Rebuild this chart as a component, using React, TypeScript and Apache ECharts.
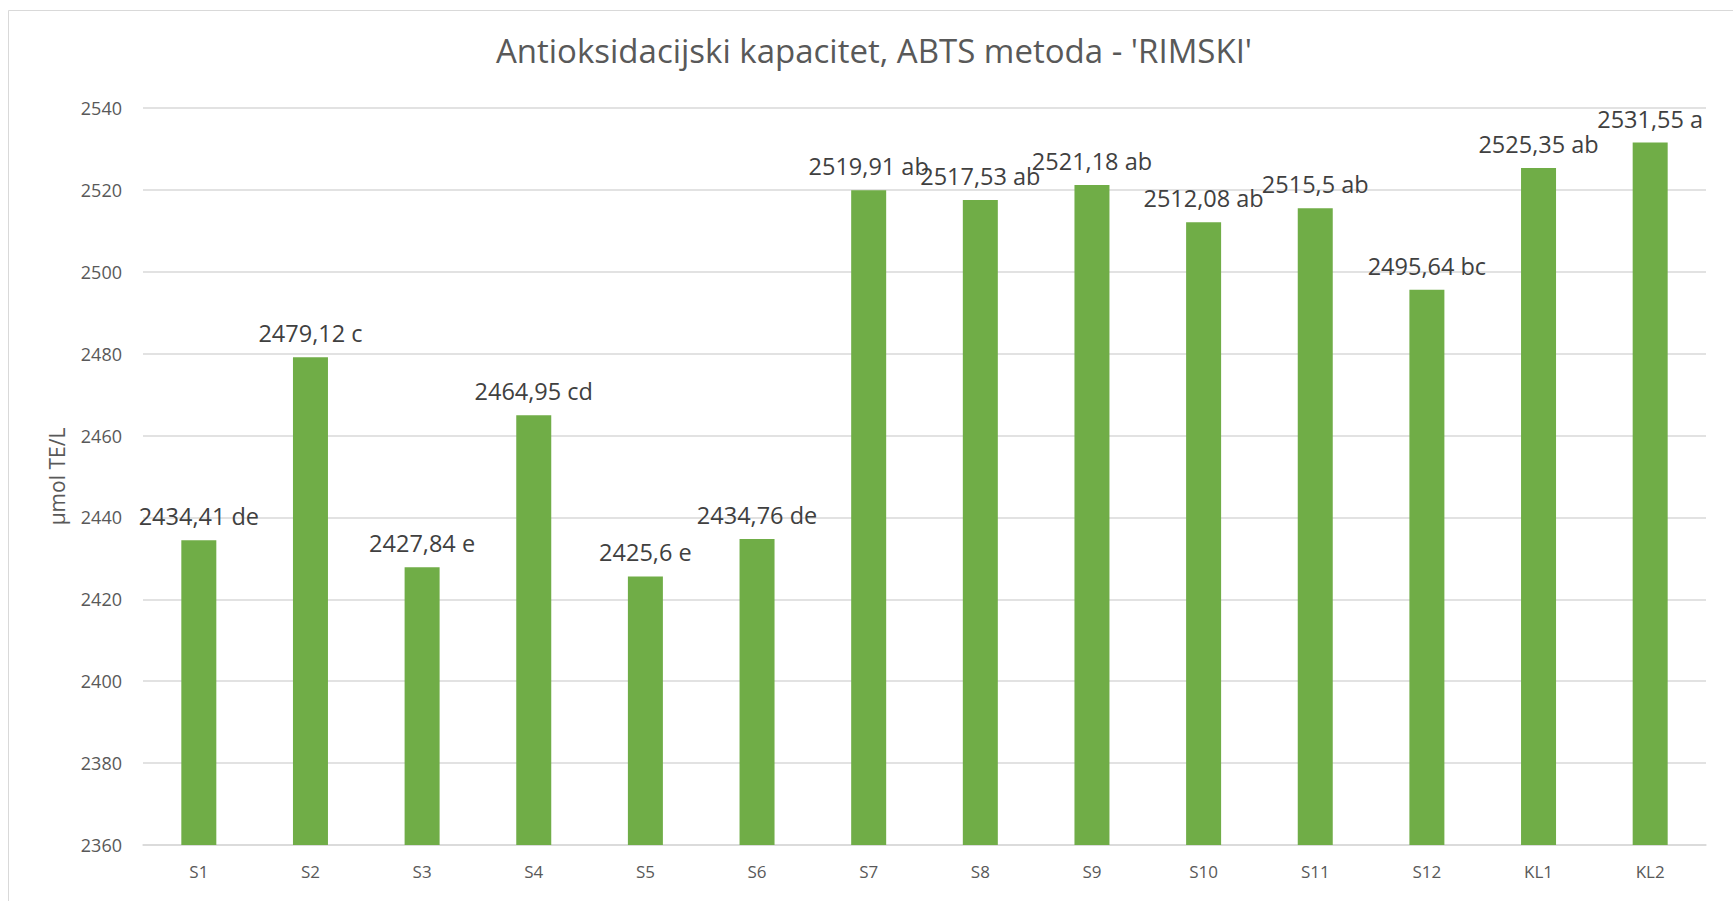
import React, { useEffect, useRef } from "react";
import * as echarts from "echarts";

const categories = ["S1", "S2", "S3", "S4", "S5", "S6", "S7", "S8", "S9", "S10", "S11", "S12", "KL1", "KL2"];
const values = [2434.41, 2479.12, 2427.84, 2464.95, 2425.6, 2434.76, 2519.91, 2517.53, 2521.18, 2512.08, 2515.5, 2495.64, 2525.35, 2531.55];
const letters = ["de", "c", "e", "cd", "e", "de", "ab", "ab", "ab", "ab", "ab", "bc", "ab", "a"];
const yMin = 2360;
const yMax = 2540;
const yStep = 20;

const FONT = "'Open Sans', sans-serif";

export default function App() {
  const ref = useRef<HTMLDivElement>(null);
  useEffect(() => {
    if (!ref.current) return;
    const chart = echarts.init(ref.current, null, { renderer: "svg" });
    chart.setOption({
      animation: false,
      backgroundColor: "#ffffff",
      textStyle: { fontFamily: FONT },
      title: {
        text: "Antioksidacijski kapacitet, ABTS metoda - 'RIMSKI'",
        left: 869,
        textAlign: "center",
        top: 29,
        textStyle: { fontFamily: FONT, fontSize: 33, fontWeight: "normal", color: "#595959" },
      },
      graphic: [
        {
          type: "rect",
          shape: { x: 8.5, y: 10.5, width: 1760, height: 920 },
          style: { fill: "none", stroke: "#D9D9D9", lineWidth: 1 },
          silent: true,
        },
      ],
      grid: { left: 143, right: 27, top: 108, bottom: 56, containLabel: false },
      xAxis: {
        type: "category",
        data: categories,
        axisLine: { show: true, lineStyle: { color: "#D9D9D9", width: 1.5 } },
        axisTick: { show: false },
        axisLabel: { fontFamily: FONT, fontSize: 17, color: "#595959", margin: 18 },
      },
      yAxis: {
        type: "value",
        min: yMin,
        max: yMax,
        interval: yStep,
        name: "µmol TE/L",
        nameLocation: "middle",
        nameGap: 76,
        nameRotate: 90,
        nameTextStyle: { fontFamily: FONT, fontSize: 21, color: "#595959" },
        axisLine: { show: false },
        axisTick: { show: false },
        splitLine: { lineStyle: { color: "#D9D9D9", width: 1.5 } },
        axisLabel: {
          fontFamily: FONT,
          fontSize: 18,
          color: "#595959",
          margin: 21,
          formatter: (v: number) => String(v),
        },
      },
      series: [
        {
          type: "bar",
          data: values,
          barWidth: 35,
          itemStyle: { color: "#70AD47" },
          label: {
            show: true,
            position: "top",
            distance: 12,
            fontFamily: FONT,
            fontSize: 23.5,
            color: "#404040",
            formatter: (p: any) => String(values[p.dataIndex]).replace(".", ",") + " " + letters[p.dataIndex],
          },
        },
      ],
    });
    return () => chart.dispose();
  }, []);
  return (
    <div
      ref={ref}
      style={{ position: "fixed", left: 0, top: 0, width: 1733, height: 901 }}
    />
  );
}
